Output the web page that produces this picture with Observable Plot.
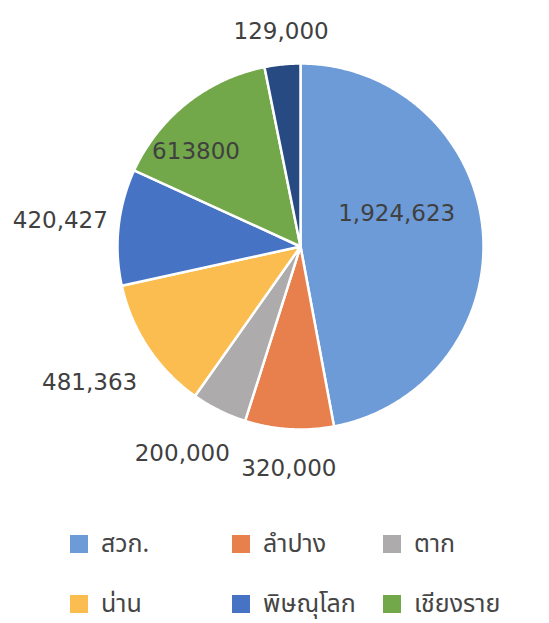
<!DOCTYPE html>
<html>
<head>
<meta charset="utf-8">
<script src="https://cdn.jsdelivr.net/npm/d3@7"></script>
<script src="https://cdn.jsdelivr.net/npm/@observablehq/plot@0.6"></script>
<style>
  html, body { margin: 0; padding: 0; background: #fff; }
  #wrap { width: 549px; height: 623px; position: relative; overflow: hidden; }
  #legend { position: absolute; left: 70px; top: 531px; display: grid;
    grid-template-columns: 162px 151px 166px; row-gap: 34px;
    font-family: "Noto Sans Thai", "Tahoma", "DejaVu Sans", sans-serif; font-size: 25px; color: #454545; }
  .item { display: flex; align-items: center; height: 26px; white-space: nowrap; }
  .sw { width: 18px; height: 18px; margin-right: 13px; flex: none; }
</style>
</head>
<body>
<div id="wrap"><div id="chart"></div><div id="legend"></div></div>
<script>
// data
const categories = ["สวก.", "ลำปาง", "ตาก", "น่าน", "พิษณุโลก", "เชียงราย", "อื่นๆ"];
const values = [1924623, 320000, 200000, 481363, 420427, 613800, 129000];
const valueLabels = ["1,924,623", "320,000", "200,000", "481,363", "420,427", "613800", "129,000"];
const legendCategories = ["สวก.", "ลำปาง", "ตาก", "น่าน", "พิษณุโลก", "เชียงราย"];
const colors = ["#6d9bd7", "#e8804d", "#adabab", "#fbbd50", "#4773c4", "#72a84a", "#284a82"];

// label layout (radius in pie units, pixel nudges)
const labelRadius = [0.55, 1.21, 1.28, 1.37, 1.32, 0.77, 1.18];
const labelNudge = [[-4, -24], [2, 1], [-14, -3], [-2, -3], [0, 0], [-17, 16], [2, 0]];

const R = 183; // pixels per pie unit
const table = categories.map((c, i) => ({cat: c, value: values[i], label: valueLabels[i]}));
const arcs = d3.pie().sort(null).value(d => d.value)(table);

const poly = [];
for (const a of arcs) {
  poly.push({cat: a.data.cat, x: 0, y: 0});
  const n = Math.max(2, Math.ceil((a.endAngle - a.startAngle) / 0.01));
  for (let k = 0; k <= n; k++) {
    const t = a.startAngle + (a.endAngle - a.startAngle) * k / n;
    poly.push({cat: a.data.cat, x: Math.sin(t), y: Math.cos(t)});
  }
  poly.push({cat: a.data.cat, x: 0, y: 0});
}

const labels = arcs.map((a, i) => {
  const m = (a.startAngle + a.endAngle) / 2;
  return {
    label: a.data.label,
    x: labelRadius[i] * Math.sin(m) + labelNudge[i][0] / R,
    y: labelRadius[i] * Math.cos(m) - labelNudge[i][1] / R
  };
});

const cx = 300, cy = 246;
const chart = Plot.plot({
  width: 549,
  height: 510,
  margin: 0,
  x: {domain: [-1, 1], range: [cx - R, cx + R], axis: null},
  y: {domain: [-1, 1], range: [cy + R, cy - R], axis: null},
  color: {domain: categories, range: colors},
  marks: [
    Plot.line(poly, {x: "x", y: "y", z: "cat", fill: "cat", stroke: "white", strokeWidth: 2.5, curve: "linear"}),
    Plot.text(labels, {x: "x", y: "y", text: "label", fontSize: 23, fill: "#404040",
      fontFamily: "DejaVu Sans, sans-serif", textAnchor: "middle"})
  ]
});
document.getElementById("chart").appendChild(chart);

const legend = document.getElementById("legend");
legendCategories.forEach(c => {
  const it = document.createElement("div");
  it.className = "item";
  const sw = document.createElement("span");
  sw.className = "sw";
  sw.style.background = colors[categories.indexOf(c)];
  const tx = document.createElement("span");
  tx.textContent = c;
  it.appendChild(sw); it.appendChild(tx);
  legend.appendChild(it);
});
</script>
</body>
</html>
